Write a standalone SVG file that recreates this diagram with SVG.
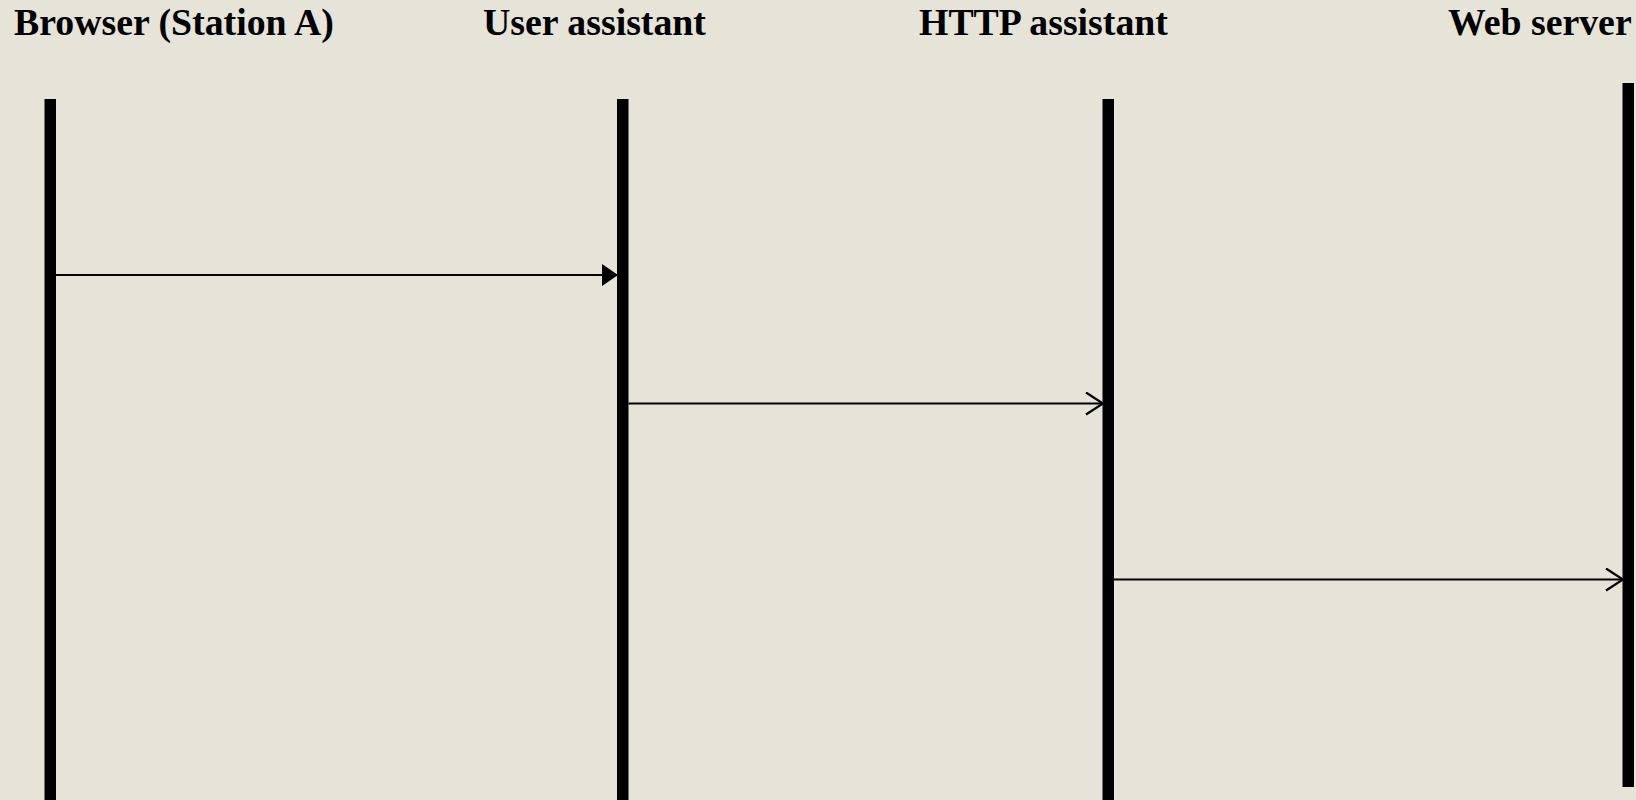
<svg xmlns="http://www.w3.org/2000/svg" width="1636" height="800" viewBox="0 0 1636 800">
  <style>
    .label { font-family: "Liberation Serif", "Times New Roman", serif; font-weight: bold; font-size: 37.8px; fill: #000; }
    .life { fill: #000; }
    .msg { stroke: #000; stroke-width: 2; fill: none; }
  </style>
  <defs>
    <marker id="filled" markerUnits="userSpaceOnUse" markerWidth="18" markerHeight="22" refX="16" refY="11" orient="auto">
      <path d="M0,0 L16,11 L0,22 Z" fill="#000"/>
    </marker>
    <marker id="open" markerUnits="userSpaceOnUse" markerWidth="20" markerHeight="26" refX="18" refY="12" orient="auto">
      <path d="M1,1 L18,12 L1,23" fill="none" stroke="#000" stroke-width="2.2"/>
    </marker>
  </defs>
  <rect width="1636" height="800" fill="#e6e4d9"/>

  <g id="browser">
    <text class="label" x="14" y="35">Browser (Station A)</text>
    <rect class="life" x="44.5" y="99" width="11.5" height="701"/>
  </g>
  <g id="user-assistant">
    <text class="label" x="483" y="35">User assistant</text>
    <rect class="life" x="617" y="99" width="11.5" height="701"/>
  </g>
  <g id="http-assistant">
    <text class="label" x="919" y="35">HTTP assistant</text>
    <rect class="life" x="1102.5" y="99" width="11.5" height="701"/>
  </g>
  <g id="web-server">
    <text class="label" x="1448" y="35">Web server</text>
    <rect class="life" x="1622.5" y="83" width="11.5" height="704"/>
  </g>

  <g id="connectors">
    <line class="msg" x1="56" y1="275" x2="618" y2="275" marker-end="url(#filled)"/>
    <line class="msg" x1="628.5" y1="403.5" x2="1103" y2="403.5" marker-end="url(#open)"/>
    <line class="msg" x1="1114" y1="579.5" x2="1623" y2="579.5" marker-end="url(#open)"/>
  </g>
</svg>
